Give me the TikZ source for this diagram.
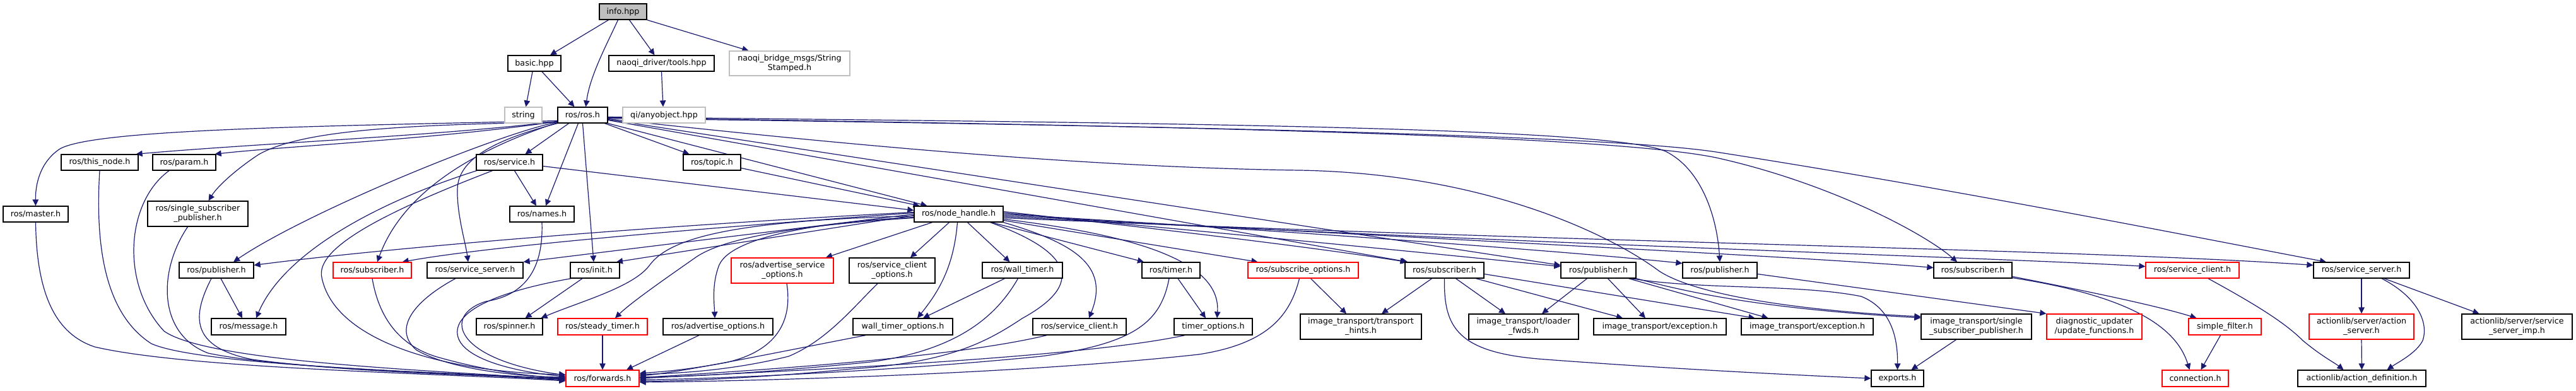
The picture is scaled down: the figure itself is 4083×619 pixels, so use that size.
\documentclass[tikz,border=0pt]{standalone}
\usepackage{fontspec}
\setmainfont{DejaVu Sans}
\usetikzlibrary{arrows.meta}
\pgfdeclarelayer{bg}
\pgfsetlayers{bg,main}
\definecolor{edgec}{HTML}{191970}
\definecolor{greyb}{HTML}{BFBFBF}
\definecolor{redb}{HTML}{FF0000}
\tikzset{
 box/.style={draw=black, line width=1.3pt, rectangle, inner sep=0pt, align=center, fill=white, font=\fontsize{12.7}{15}\selectfont, text=black},
 redbox/.style={box, draw=redb},
 greybox/.style={box, draw=greyb},
 rootbox/.style={box, fill=greyb},
 e/.style={draw=edgec, line width=1.2pt, -{Triangle[length=10pt,width=9.5pt]}},
}
\newcommand{\nd}[7][box]{\node[#1, minimum width={(#4-#3)*1pt}, minimum height={(#6-#5)*1pt}] (#2) at ({(#3+#4)/2},{(#5+#6)/2}) {#7};}
\begin{document}
\begin{tikzpicture}[x=1pt,y=-1pt]
\useasboundingbox (0,0) rectangle (4083,619);
\begin{pgfonlayer}{bg}
\fill[white] (0,0) rectangle (4083,619);
\end{pgfonlayer}
\nd[rootbox]{info}{950}{1025}{6}{31}{info.hpp}
\nd{basic}{805}{889}{88}{113}{basic.hpp}
\nd{tools}{965}{1132}{88}{113}{naoqi\_driver/tools.hpp}
\nd[greybox]{strst}{1156}{1347}{81}{120}{naoqi\_bridge\_msgs/String\\Stamped.h}
\nd[greybox]{string}{800}{859}{170}{195}{string}
\nd{ros}{884}{963}{170}{195}{ros/ros.h}
\nd[greybox]{anyobj}{987}{1118}{170}{195}{qi/anyobject.hpp}
\nd{thisnode}{97}{219}{245}{270}{ros/this\_node.h}
\nd{param}{242}{342}{245}{270}{ros/param.h}
\nd{service}{755}{860}{245}{270}{ros/service.h}
\nd{topic}{1083}{1174}{245}{270}{ros/topic.h}
\nd{master}{5}{108}{327}{352}{ros/master.h}
\nd{sspL}{234}{393}{319}{359}{ros/single\_subscriber\\\_publisher.h}
\nd{names}{808}{910}{327}{352}{ros/names.h}
\nd{nh}{1449}{1590}{327}{352}{ros/node\_handle.h}
\nd{pubL}{284}{402}{416}{441}{ros/publisher.h}
\nd[redbox]{subR}{528}{652}{416}{441}{ros/subscriber.h}
\nd{ssL}{677}{829}{416}{441}{ros/service\_server.h}
\nd{init}{904}{982}{416}{441}{ros/init.h}
\nd[redbox]{aso}{1159}{1321}{409}{449}{ros/advertise\_service\\\_options.h}
\nd{sco}{1346}{1482}{409}{449}{ros/service\_client\\\_options.h}
\nd{wt}{1557}{1684}{416}{441}{ros/wall\_timer.h}
\nd{timer}{1810}{1902}{416}{441}{ros/timer.h}
\nd[redbox]{subopt}{1978}{2153}{416}{441}{ros/subscribe\_options.h}
\nd{subM}{2227}{2352}{416}{441}{ros/subscriber.h}
\nd{pubM}{2474}{2593}{416}{441}{ros/publisher.h}
\nd{pubR}{2667}{2785}{416}{441}{ros/publisher.h}
\nd{subRt}{3065}{3189}{416}{441}{ros/subscriber.h}
\nd[redbox]{scR}{3401}{3549}{416}{441}{ros/service\_client.h}
\nd{ssR}{3667}{3819}{416}{441}{ros/service\_server.h}
\nd{msg}{335}{453}{505}{531}{ros/message.h}
\nd{spinner}{755}{860}{505}{531}{ros/spinner.h}
\nd[redbox]{steady}{884}{1026}{505}{531}{ros/steady\_timer.h}
\nd{advopt}{1051}{1225}{505}{531}{ros/advertise\_options.h}
\nd{wto}{1352}{1510}{505}{531}{wall\_timer\_options.h}
\nd{scM}{1637}{1785}{505}{531}{ros/service\_client.h}
\nd{tio}{1861}{1985}{505}{531}{timer\_options.h}
\nd{hints}{2061}{2253}{498}{538}{image\_transport/transport\\\_hints.h}
\nd{loader}{2328}{2502}{498}{538}{image\_transport/loader\\\_fwds.h}
\nd{exc1}{2526}{2736}{505}{531}{image\_transport/exception.h}
\nd{exc2}{2760}{2969}{505}{531}{image\_transport/exception.h}
\nd{issp}{3045}{3220}{498}{538}{image\_transport/single\\\_subscriber\_publisher.h}
\nd[redbox]{diag}{3244}{3395}{498}{538}{diagnostic\_updater\\/update\_functions.h}
\nd[redbox]{simple}{3469}{3584}{505}{531}{simple\_filter.h}
\nd[redbox]{actsrv}{3660}{3826}{498}{538}{actionlib/server/action\\\_server.h}
\nd{imp}{3902}{4077}{498}{538}{actionlib/server/service\\\_server\_imp.h}
\nd[redbox]{fwd}{897}{1013}{587}{613}{ros/forwards.h}
\nd{exports}{2966}{3049}{587}{613}{exports.h}
\nd[redbox]{conn}{3427}{3532}{587}{613}{connection.h}
\nd{actdef}{3642}{3845}{587}{613}{actionlib/action\_definition.h}
\begin{pgfonlayer}{bg}
% top
\draw[e] ([xshift=-23pt]info.south) -- ([xshift=25pt]basic.north);
\draw[e] ([xshift=-8pt]info.south) .. controls (962,70) and (935,120) .. ([xshift=5pt]ros.north);
\draw[e] ([xshift=10pt]info.south) -- ([xshift=-11pt]tools.north);
\draw[e] (info.south east) -- ([xshift=-65pt]strst.north);
\draw[e] ([xshift=-3pt]basic.south) -- ([xshift=4pt]string.north);
\draw[e] ([xshift=12pt]basic.south) -- ([xshift=-13pt]ros.north);
\draw[e] (tools.south) -- ([xshift=-1.5pt]anyobj.north);
% ros downward
\draw[e] ([xshift=-22pt]ros.south) -- ([xshift=25pt]service.north);
\draw[e] ([xshift=-7pt]ros.south) -- ([xshift=6pt]names.north);
\draw[e] (ros.south) -- ([xshift=-2pt]init.north);
\draw[e] ([xshift=35pt]ros.south) -- ([xshift=-36pt]topic.north);
\draw[e] (ros.south west) .. controls (790,220) and (726,250) .. (725,300) .. controls (724,340) and (738,385) .. ([xshift=-11pt]ssL.north);
\draw[e] ([xshift=8pt]service.south) -- ([xshift=-9pt]names.north);
\draw[e] ([yshift=-6pt]service.east) -- ([yshift=6pt]nh.west);
\draw[e] ([yshift=-9pt]topic.east) -- ([xshift=-62pt]nh.north);
\draw[e] (ros.south east) -- ([xshift=-50pt]nh.north);
% ros to left
\draw[e] ([yshift=-9pt]ros.west) .. controls (500,200) and (150,205) .. (95,236) .. controls (62,258) and (56,295) .. (master.north);
\draw[e] ([yshift=-10pt]ros.west) .. controls (700,215) and (400,228) .. ([xshift=-4pt]thisnode.north east);
\draw[e] ([yshift=-10pt]ros.west) .. controls (700,220) and (450,232) .. ([xshift=-2pt]param.north east);
\draw[e] ([yshift=-11pt]ros.west) .. controls (650,198) and (480,205) .. (410,245) .. controls (375,268) and (345,295) .. ([xshift=17pt]sspL.north);
\draw[e] ([yshift=-11pt]ros.west) .. controls (780,215) and (480,340) .. ([xshift=27pt]pubL.north);
\draw[e] ([yshift=-12pt]ros.west) .. controls (760,235) and (640,300) .. ([xshift=8pt]subR.north);
% service
\draw[e] ([xshift=-52pt]service.south) .. controls (600,320) and (450,400) .. ([xshift=12pt]msg.north);
\draw[e] ([xshift=-27pt]service.south) .. controls (600,340) and (500,395) .. (510,440) .. controls (530,540) and (700,590) .. ([yshift=6pt]fwd.west);
% into fwd from left
\draw[e] (master.south) .. controls (58,470) and (90,530) .. (150,550) .. controls (300,585) and (700,592) .. ([yshift=-4pt]fwd.west);
\draw[e] (thisnode.south) .. controls (150,400) and (170,500) .. (240,545) .. controls (320,580) and (700,590) .. ([yshift=-3pt]fwd.west);
\draw[e] ([xshift=-24pt]param.south) .. controls (200,320) and (190,450) .. (260,525) .. controls (330,575) and (700,588) .. ([yshift=-2pt]fwd.west);
\draw[e] ([xshift=-16pt]sspL.south) .. controls (250,430) and (250,530) .. (330,560) .. controls (450,585) and (700,590) .. ([yshift=-1pt]fwd.west);
\draw[e] ([xshift=7pt]pubL.south) -- ([xshift=-10pt]msg.north);
\draw[e] ([xshift=-8pt]pubL.south) .. controls (305,500) and (300,550) .. (400,570) .. controls (550,590) and (750,595) .. (fwd.west);
\draw[e] (subR.south) .. controls (600,500) and (630,550) .. (700,568) .. controls (780,590) and (850,598) .. ([yshift=1pt]fwd.west);
\draw[e] ([xshift=-31pt]ssL.south) .. controls (660,475) and (620,520) .. (660,555) .. controls (720,590) and (850,598) .. ([yshift=2pt]fwd.west);
\draw[e] (names.south) .. controls (862,440) and (820,470) .. (770,478) .. controls (700,500) and (720,570) .. ([yshift=5pt]fwd.west);
\draw[e] ([xshift=-38pt]init.south) .. controls (800,460) and (720,490) .. (725,530) .. controls (730,570) and (820,590) .. ([yshift=3pt]fwd.west);
\draw[e] ([xshift=-20pt]init.south) -- ([xshift=25pt]spinner.north);
\draw[e] (steady.south) -- (fwd.north);
\draw[e] ([xshift=-30pt]advopt.south) -- ([xshift=38pt]fwd.north);
% into fwd from right
\draw[e] ([xshift=7pt]aso.south) .. controls (1255,500) and (1240,555) .. (1150,575) .. controls (1080,588) and (1040,590) .. ([yshift=8pt]fwd.east);
\draw[e] ([xshift=-23pt]sco.south) .. controls (1350,490) and (1310,540) .. (1250,565) .. controls (1150,590) and (1060,592) .. ([yshift=6pt]fwd.east);
\draw[e] ([xshift=-59pt]wto.south) .. controls (1200,565) and (1080,590) .. ([yshift=4pt]fwd.east);
\draw[e] ([xshift=-7pt]wt.south) .. controls (1580,500) and (1520,555) .. (1380,574) .. controls (1200,592) and (1080,598) .. ([yshift=2pt]fwd.east);
\draw[e] ([xshift=-52pt]scM.south) .. controls (1500,570) and (1150,590) .. ([yshift=1pt]fwd.east);
\draw[e] ([xshift=-3pt]timer.south) .. controls (1840,510) and (1800,545) .. (1650,565) .. controls (1400,590) and (1100,602) .. ([yshift=-2pt]fwd.east);
\draw[e] ([xshift=-45pt]tio.south) .. controls (1700,570) and (1200,590) .. (fwd.east);
\draw[e] ([xshift=50pt]nh.south) .. controls (1700,400) and (1720,450) .. (1620,505) .. controls (1560,545) and (1500,575) .. (1350,585) .. controls (1200,600) and (1060,605) .. ([yshift=-4pt]fwd.east);
\draw[e] ([xshift=-6pt]subopt.south) .. controls (2045,500) and (2010,545) .. (1900,562) .. controls (1600,595) and (1150,605) .. ([yshift=-6pt]fwd.east);
% nh children
\draw[e] ([xshift=-28pt]wt.south) -- ([xshift=32pt]wto.north);
\draw[e] ([xshift=-2pt]nh.south) .. controls (1512,420) and (1490,460) .. ([xshift=23pt]wto.north);
\draw[e] (nh.south east) .. controls (1700,385) and (1760,420) .. ([xshift=15pt]scM.north);
\draw[e] ([xshift=11pt]timer.south) -- ([xshift=-12pt]tio.north);
\draw[e] ([yshift=-8pt]nh.east) .. controls (1820,375) and (1935,420) .. ([xshift=6pt]tio.north);
\draw[e] ([xshift=12pt]subopt.south) -- ([xshift=-23pt]hints.north);
\draw[e] ([yshift=-10pt]nh.east) -- ([xshift=-72pt]subopt.north);
\draw[e] ([xshift=52pt]nh.south) -- ([xshift=-43pt]timer.north);
\draw[e] ([xshift=14pt]nh.south) -- ([xshift=-20pt]wt.north);
\draw[e] ([xshift=-15pt]nh.south) -- ([xshift=29pt]sco.north);
\draw[e] ([xshift=-42pt]nh.south) -- ([xshift=69pt]aso.north);
\draw[e] ([yshift=-5pt]nh.west) .. controls (1300,352) and (1160,375) .. (1140,420) .. controls (1128,450) and (1132,480) .. ([xshift=-5pt]advopt.north);
\draw[e] ([yshift=-6pt]nh.west) .. controls (1250,358) and (1140,380) .. (1100,410) .. controls (1050,445) and (1000,480) .. ([xshift=20pt]steady.north);
\draw[e] ([yshift=-3pt]nh.west) .. controls (1150,350) and (1060,380) .. (1030,420) .. controls (1005,455) and (920,478) .. ([xshift=50pt]spinner.north);
\draw[e] ([yshift=-2pt]nh.west) -- ([xshift=34pt]init.north);
\draw[e] (nh.west) -- (ssL.north east);
\draw[e] ([yshift=2pt]nh.west) .. controls (1000,370) and (750,395) .. ([xshift=-15pt]subR.north east);
\draw[e] ([yshift=3pt]nh.west) .. controls (1000,360) and (600,395) .. ([yshift=8pt]pubL.east);
% nh and ros to the right
\draw[e] ([yshift=4pt]nh.east) .. controls (1900,370) and (2100,395) .. ([xshift=3pt]subM.north west);
\draw[e] ([yshift=-8pt]ros.east) -- ([xshift=5pt]subM.north west);
\draw[e] ([yshift=2pt]nh.east) .. controls (2000,375) and (2300,405) .. ([yshift=6pt]pubM.west);
\draw[e] ([yshift=-7pt]ros.east) -- ([yshift=8pt]pubM.west);
\draw[e] (nh.east) .. controls (2100,370) and (2500,400) .. ([yshift=11pt]pubR.west);
\draw[e] ([yshift=-3pt]ros.east) .. controls (1800,195) and (2550,200) .. (2640,240) .. controls (2700,270) and (2722,350) .. (pubR.north);
\draw[e] ([yshift=-2pt]nh.east) .. controls (2400,385) and (2900,410) .. ([yshift=4pt]subRt.west);
\draw[e] ([yshift=-4pt]ros.east) .. controls (1900,200) and (2550,215) .. (2720,250) .. controls (2900,290) and (3050,370) .. ([xshift=-25pt]subRt.north);
\draw[e] ([yshift=-4pt]nh.east) .. controls (2500,390) and (3200,410) .. ([yshift=6pt]scR.west);
\draw[e] ([yshift=-5pt]ros.east) .. controls (1900,200) and (2550,215) .. (2720,241) .. controls (3100,300) and (3500,380) .. ([xshift=-56pt]ssR.north);
\draw[e] ([yshift=-6pt]nh.east) .. controls (2500,385) and (3300,395) .. ([yshift=8pt]ssR.west);
\draw[e] ([yshift=-6pt]ros.east) .. controls (1300,225) and (1700,265) .. (2060,270) .. controls (2350,275) and (2550,370) .. (2630,430) .. controls (2700,475) and (2900,495) .. ([yshift=16pt]issp.west);
% image transport
\draw[e] ([xshift=-20pt]subM.south) -- ([xshift=33pt]hints.north);
\draw[e] (subM.south) .. controls (2288,520) and (2310,560) .. (2450,570) .. controls (2650,585) and (2850,595) .. (exports.west);
\draw[e] ([xshift=18pt]subM.south) -- ([xshift=-29pt]loader.north);
\draw[e] ([xshift=50pt]subM.south) -- ([xshift=-59pt]exc1.north);
\draw[e] ([yshift=-6pt]subM.east) -- ([xshift=-83pt]exc2.north);
\draw[e] ([xshift=-18pt]pubM.south) -- ([xshift=29pt]loader.north);
\draw[e] ([xshift=15pt]pubM.south) -- ([xshift=-23pt]exc1.north);
\draw[e] ([xshift=48pt]pubM.south) -- ([xshift=-62pt]exc2.north);
\draw[e] (pubM.south east) .. controls (2680,465) and (2800,490) .. ([yshift=14pt]issp.west);
\draw[e] ([xshift=52pt]pubM.south) .. controls (2700,460) and (2850,450) .. (2950,470) .. controls (3000,490) and (3008,540) .. (exports.north);
\draw[e] ([xshift=-32pt]issp.south) -- ([xshift=22pt]exports.north);
% right side
\draw[e] ([yshift=-6pt]pubR.east) -- (diag.north west);
\draw[e] ([yshift=-10pt]subRt.east) .. controls (3300,460) and (3420,485) .. ([xshift=-45pt]simple.north);
\draw[e] ([yshift=-12pt]subRt.east) .. controls (3380,470) and (3450,520) .. ([xshift=-9pt]conn.north);
\draw[e] ([xshift=-7pt]simple.south) -- ([xshift=9pt]conn.north);
\draw[e] ([xshift=25pt]scR.south) .. controls (3570,480) and (3620,510) .. (3650,540) .. controls (3680,565) and (3700,575) .. ([xshift=-29pt]actdef.north);
\draw[e] (ssR.south) -- (actsrv.north);
\draw[e] ([xshift=32pt]ssR.south) .. controls (3830,470) and (3850,510) .. (3840,540) .. controls (3830,560) and (3800,575) .. ([xshift=40pt]actdef.north);
\draw[e] ([xshift=36pt]ssR.south) -- ([xshift=-60pt]imp.north);
\draw[e] (actsrv.south) -- (actdef.north);
\end{pgfonlayer}
\end{tikzpicture}
\end{document}
